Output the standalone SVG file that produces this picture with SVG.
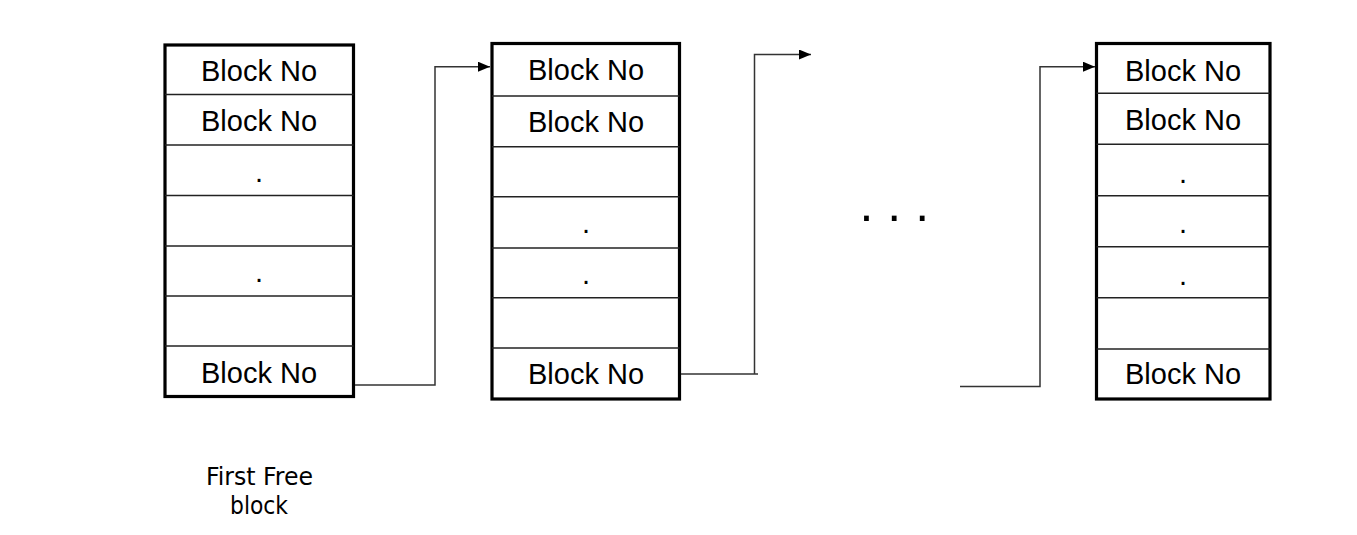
<svg xmlns="http://www.w3.org/2000/svg" width="1357" height="535" viewBox="0 0 1357 535">
<style>
.frame{fill:none;stroke:#000;stroke-width:3.2}
.div{stroke:#222;stroke-width:1.5}
.lbl{font-family:"Liberation Sans",Arial,sans-serif;font-size:29px;fill:#000;text-anchor:middle}
.conn{fill:none;stroke:#333;stroke-width:1.5}
.cap{font-family:"DejaVu Sans Condensed","DejaVu Sans",sans-serif;font-size:25px;fill:#000;text-anchor:middle}
</style>
<defs>
<marker id="arr" markerUnits="userSpaceOnUse" markerWidth="12" markerHeight="10" refX="12" refY="5" orient="auto">
<path d="M0,0 L12,5 L0,10 z" fill="#000"/>
</marker>
</defs>
<rect width="1357" height="535" fill="#fff"/>

<g id="block1">
<rect class="frame" x="165" y="45" width="188.5" height="351.5" fill="#fff"/>
<line class="div" x1="165" y1="94.5" x2="353.5" y2="94.5"/>
<line class="div" x1="165" y1="145" x2="353.5" y2="145"/>
<line class="div" x1="165" y1="195.5" x2="353.5" y2="195.5"/>
<line class="div" x1="165" y1="246" x2="353.5" y2="246"/>
<line class="div" x1="165" y1="296" x2="353.5" y2="296"/>
<line class="div" x1="165" y1="346" x2="353.5" y2="346"/>
<text class="lbl" x="259" y="81">Block No</text>
<text class="lbl" x="259" y="131">Block No</text>
<text class="lbl" x="259" y="182">.</text>
<text class="lbl" x="259" y="282">.</text>
<text class="lbl" x="259" y="383">Block No</text>
</g>

<g id="block2">
<rect class="frame" x="492" y="43.5" width="187.5" height="355.5" fill="#fff"/>
<line class="div" x1="492" y1="96" x2="679.5" y2="96"/>
<line class="div" x1="492" y1="146.7" x2="679.5" y2="146.7"/>
<line class="div" x1="492" y1="196.7" x2="679.5" y2="196.7"/>
<line class="div" x1="492" y1="248" x2="679.5" y2="248"/>
<line class="div" x1="492" y1="297.7" x2="679.5" y2="297.7"/>
<line class="div" x1="492" y1="348" x2="679.5" y2="348"/>
<text class="lbl" x="586" y="80">Block No</text>
<text class="lbl" x="586" y="132">Block No</text>
<text class="lbl" x="586" y="233">.</text>
<text class="lbl" x="586" y="284">.</text>
<text class="lbl" x="586" y="384">Block No</text>
</g>

<g id="block3">
<rect class="frame" x="1096.5" y="43.5" width="173.5" height="355.5" fill="#fff"/>
<line class="div" x1="1096.5" y1="93.3" x2="1270" y2="93.3"/>
<line class="div" x1="1096.5" y1="144.3" x2="1270" y2="144.3"/>
<line class="div" x1="1096.5" y1="195.7" x2="1270" y2="195.7"/>
<line class="div" x1="1096.5" y1="246.7" x2="1270" y2="246.7"/>
<line class="div" x1="1096.5" y1="297.7" x2="1270" y2="297.7"/>
<line class="div" x1="1096.5" y1="349" x2="1270" y2="349"/>
<text class="lbl" x="1183" y="81">Block No</text>
<text class="lbl" x="1183" y="130">Block No</text>
<text class="lbl" x="1183" y="183">.</text>
<text class="lbl" x="1183" y="233">.</text>
<text class="lbl" x="1183" y="285">.</text>
<text class="lbl" x="1183" y="384">Block No</text>
</g>

<g id="connectors">
<path class="conn" d="M355,385 H435 V66.7 H490" marker-end="url(#arr)"/>
<path class="conn" d="M681,374 H758"/>
<path class="conn" d="M754.5,374 V54.5 H811" marker-end="url(#arr)"/>
<path class="conn" d="M960,386.5 H1040 V66.7 H1095" marker-end="url(#arr)"/>
</g>

<g id="ellipsis">
<text x="894.3" y="221" font-family="Liberation Sans,Arial,sans-serif" font-size="50" text-anchor="middle" fill="#000">. . .</text>
</g>

<g id="caption">
<text class="cap" x="259.5" y="485" textLength="107" lengthAdjust="spacingAndGlyphs">First Free</text>
<text class="cap" x="259" y="514" textLength="58" lengthAdjust="spacingAndGlyphs">block</text>
</g>
</svg>
